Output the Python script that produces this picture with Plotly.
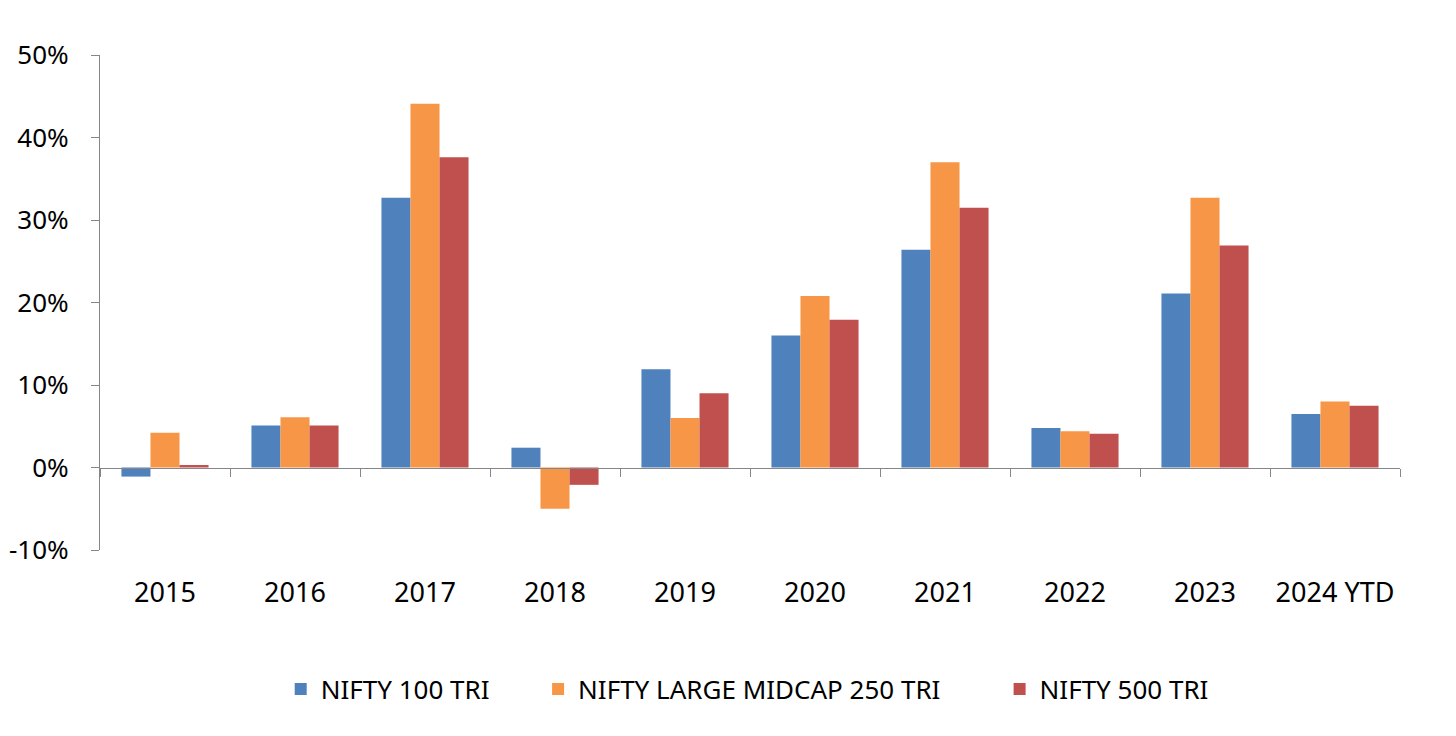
import plotly.graph_objects as go

years = ["2015", "2016", "2017", "2018", "2019", "2020", "2021", "2022", "2023", "2024 YTD"]
nifty_100 = [-1.1, 5.1, 32.7, 2.4, 11.9, 16.0, 26.4, 4.8, 21.1, 6.5]
nifty_lm250 = [4.2, 6.1, 44.1, -5.0, 6.0, 20.8, 37.0, 4.4, 32.7, 8.0]
nifty_500 = [0.3, 5.1, 37.6, -2.1, 9.0, 17.9, 31.5, 4.1, 26.9, 7.5]
y_ticks = [-0.1, 0.0, 0.1, 0.2, 0.3, 0.4, 0.5]
y_tick_labels = ["-10%", "0%", "10%", "20%", "30%", "40%", "50%"]

series = [
    ("NIFTY 100 TRI", nifty_100, "#4F81BD", "legend", 0.139),
    ("NIFTY LARGE MIDCAP 250 TRI", nifty_lm250, "#F79646", "legend2", 0.337),
    ("NIFTY 500 TRI", nifty_500, "#C0504D", "legend3", 0.692),
]

fig = go.Figure()
for name, vals, col, leg, _ in series:
    fig.add_trace(go.Bar(x=years, y=[v / 100 for v in vals], name=name, legend=leg,
                         marker=dict(color=col, line=dict(width=0))))

ymin, ymax = -0.10, 0.50
# x axis crosses at zero
zero_pos = (0 - ymin) / (ymax - ymin)

legend_font = dict(family="Noto Sans", size=26, color="#000000")
legends = {}
for name, vals, col, leg, lx in series:
    legends[leg] = dict(orientation="h", x=lx, xanchor="left", y=-0.281, yanchor="middle",
                        font=legend_font, itemwidth=30, bgcolor="rgba(0,0,0,0)")

# page body has an 8px margin, so the figure is a bit smaller than the window
fig.update_layout(
    width=1440, height=720,
    paper_bgcolor="white", plot_bgcolor="white",
    margin=dict(l=92, r=48, t=47, b=178),
    barmode="group", bargap=0.33, bargroupgap=0,
    font=dict(family="Noto Sans", size=27, color="#000000"),
    showlegend=True,
    xaxis=dict(
        anchor="free", position=zero_pos, automargin=False,
        showline=True, linecolor="#868686", linewidth=1.2,
        ticks="outside", tickson="boundaries", ticklen=8, tickcolor="#868686",
        ticklabelstandoff=101, showgrid=False,
    ),
    yaxis=dict(
        range=[ymin, ymax], tickvals=y_ticks, ticktext=y_tick_labels, automargin=False,
        showline=True, linecolor="#868686", linewidth=1.2, tickfont=dict(size=26),
        ticks="outside", ticklen=8, tickcolor="#868686", ticklabelstandoff=17,
        showgrid=False, zeroline=False,
    ),
    **legends,
)

fig.write_html("out.html")
